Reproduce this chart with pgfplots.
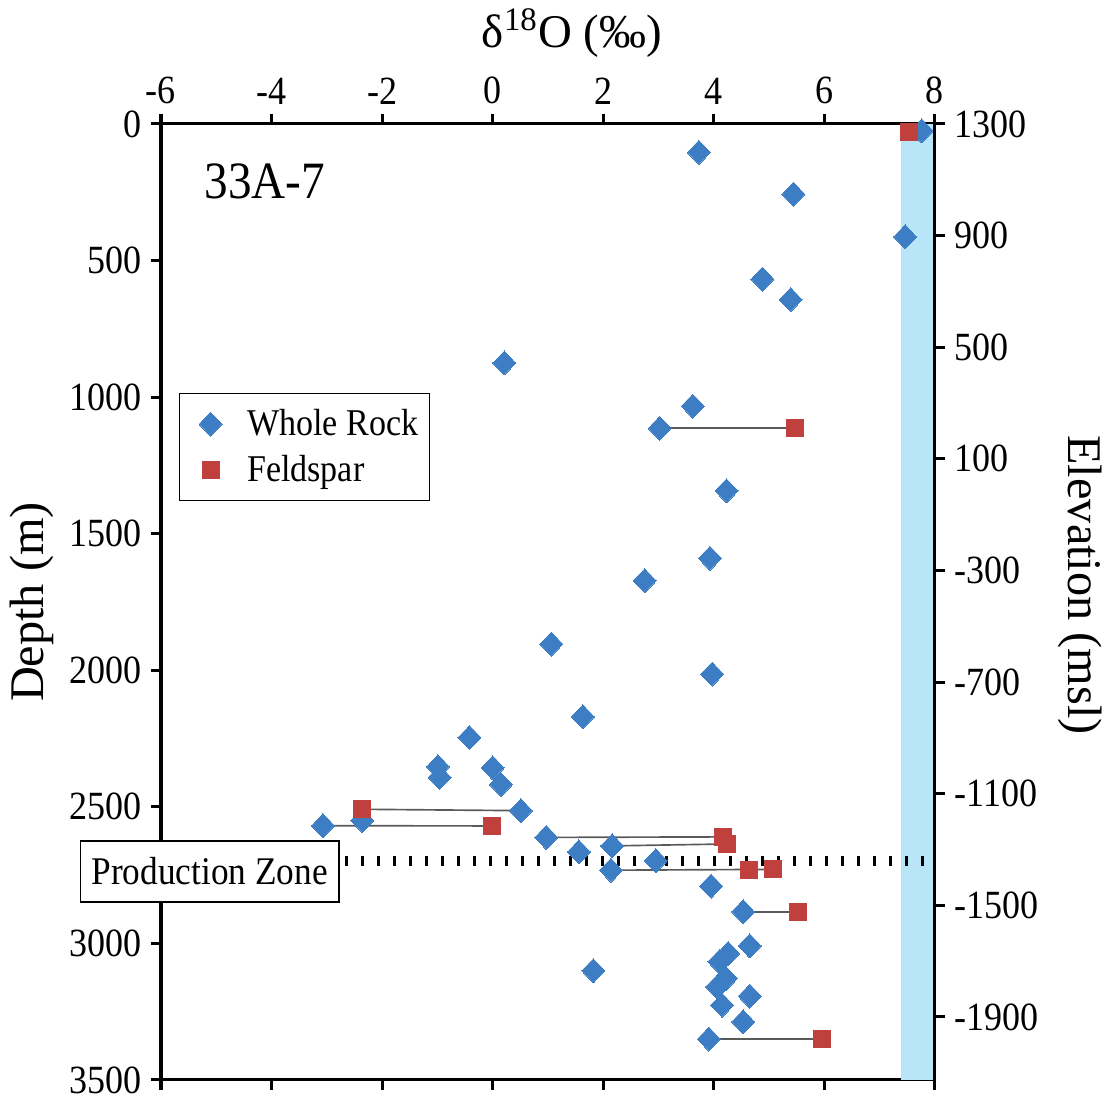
\documentclass[border=0pt]{standalone}
\usepackage{fontspec}
\setmainfont[FakeStretch=0.9]{Liberation Serif}
\newfontfamily\plainserif{Liberation Serif}
\usepackage{pgfplots}
\usepackage{pgfplotstable}
\pgfplotsset{compat=1.18}

\definecolor{wrblue}{HTML}{3D7DC3}
\definecolor{fsred}{HTML}{C0403E}
\definecolor{band}{HTML}{B8E6F8}
\definecolor{tiegray}{HTML}{5A5A5A}

% delta18O (permil) vs depth (m)
\pgfplotstableread{
x d
7.76 25
3.73 104
5.44 257
7.46 413
4.88 568
5.39 643
0.21 875
3.62 1033
3.02 1114
4.23 1343
3.93 1590
2.75 1672
1.06 1904
3.97 2014
1.63 2170
-0.42 2246
-0.99 2353
-0.96 2392
0.00 2357
0.15 2418
0.51 2514
-2.36 2550
-3.07 2569
0.97 2612
2.16 2643
1.56 2665
2.95 2697
2.14 2732
3.95 2790
4.53 2884
4.65 3009
4.26 3037
4.10 3067
1.82 3100
4.22 3128
4.06 3159
4.65 3193
4.15 3226
4.53 3287
3.91 3350
}\wholerock

\pgfplotstableread{
x d
7.53 28
5.47 1114
-2.36 2509
-0.01 2570
4.17 2610
4.24 2636
4.63 2732
5.07 2729
5.53 2884
5.95 3350
}\feldspar

\pgfplotsset{
  frame/.style={
    scale only axis, width=280.43pt, height=346.38pt,
    at={(0,0)}, anchor=south west,
    axis line style={line width=1.1pt},
    major tick style={line width=1.1pt, black},
    major tick length=3.62pt, tick align=outside,
    ticklabel style={font=\fontsize{14.5}{16}\selectfont},
  },
  tieline/.style={color=tiegray, line width=0.6pt, forget plot},
}

\begin{document}
\begin{tikzpicture}
\path[use as bounding box] (-58.33pt,-6.43pt) rectangle (341.67pt,391.30pt);

\begin{axis}[frame,
  xmin=-6, xmax=8, ymin=0, ymax=3500, y dir=reverse,
  xtick={-6,-4,-2,0,2,4,6,8}, xticklabels={-6,-4,-2,0,2,4,6,8},
  xtick pos=both, xticklabel pos=upper,
  ytick={0,500,1000,1500,2000,2500,3000,3500},
  yticklabels={0,500,1000,1500,2000,2500,3000,3500},
  ytick pos=left,
  xlabel={δ\textsuperscript{18}O (‰)},
  xlabel style={font=\plainserif\fontsize{17}{20}\selectfont,
    at={(axis description cs:0.531,1.095)}, anchor=center},
  ylabel={Depth (m)},
  ylabel style={font=\plainserif\fontsize{17.5}{20}\selectfont,
    at={(axis description cs:-0.1666,0.5)}, anchor=center},
  legend style={at={(axis description cs:0.0233,0.7186)}, anchor=north west,
    draw=black, line width=0.5pt, fill=white,
    font=\fontsize{13.7}{16}\selectfont,
    inner xsep=7pt, inner ysep=3.5pt, row sep=1.8pt,
    /tikz/every odd column/.append style={column sep=7.1pt}},
  legend cell align=left,
  clip=false,
]
\addplot[draw=none, fill=band, forget plot]
  coordinates {(7.38,0) (8,0) (8,3500) (7.38,3500)};

\addplot[tieline] coordinates {(3.02,1114) (5.47,1114)};
\addplot[tieline] coordinates {(0.51,2514) (-2.36,2509)};
\addplot[tieline] coordinates {(-3.07,2569) (-0.01,2570)};
\addplot[tieline] coordinates {(0.97,2612) (4.17,2610)};
\addplot[tieline] coordinates {(2.16,2643) (4.24,2636)};
\addplot[tieline] coordinates {(2.14,2732) (5.07,2729)};
\addplot[tieline] coordinates {(4.53,2884) (5.53,2884)};
\addplot[tieline] coordinates {(3.91,3350) (5.95,3350)};

\addplot[black, line width=3.6pt, dash pattern=on 1.1pt off 4.7pt, forget plot]
  coordinates {(-2.67,2698) (8,2698)};

\addplot[only marks, mark=diamond*, mark size=4.35pt,
  mark options={xscale=1.28, fill=wrblue, draw=wrblue, line width=0pt}]
  table[x=x, y=d] {\wholerock};
\addlegendentry{Whole Rock\hspace*{-5pt}}
\addplot[only marks, mark=square*, mark size=3.1pt,
  mark options={fill=fsred, draw=fsred, line width=0pt}]
  table[x=x, y=d] {\feldspar};
\addlegendentry{Feldspar}

\node[font=\fontsize{19}{21}\selectfont] at (axis cs:-4.12,209) {33A-7};
\node[draw=black, line width=0.5pt, fill=white, minimum width=93.8pt,
  minimum height=22.1pt, inner sep=0pt, font=\fontsize{14.2}{16}\selectfont]
  at (axis cs:-5.12,2737) {Production Zone};
\end{axis}

\begin{axis}[frame,
  xmin=-6, xmax=8, ymin=-2126, ymax=1300,
  hide x axis, axis y line*=right,
  ytick={-1900,-1500,-1100,-700,-300,100,500,900,1300},
  yticklabels={-1900,-1500,-1100,-700,-300,100,500,900,1300},
  ylabel={Elevation (msl)},
  ylabel style={font=\plainserif\fontsize{17.5}{20}\selectfont,
    at={(axis description cs:1.1876,0.5177)}, rotate=180, anchor=center},
]
\end{axis}
\end{tikzpicture}
\end{document}
